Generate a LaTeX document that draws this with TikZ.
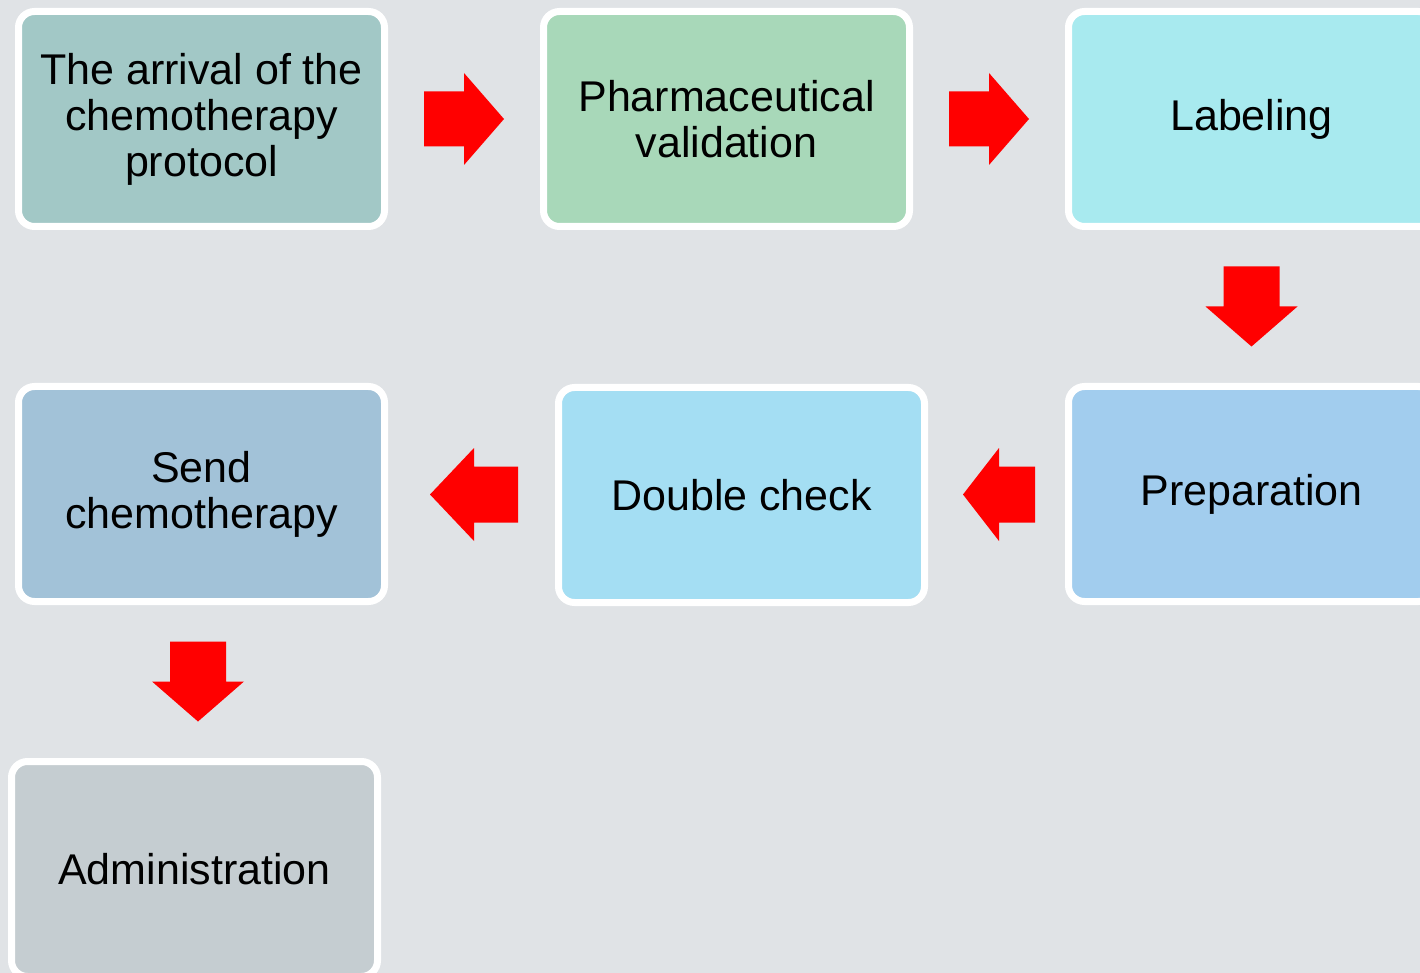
\documentclass[tikz,border=0pt]{standalone}
\usepackage{fontspec}
\setmainfont{Liberation Sans}
\usetikzlibrary{calc}
\definecolor{bgc}{RGB}{224,227,230}
\definecolor{cA}{RGB}{162,200,198}
\definecolor{cB}{RGB}{168,216,185}
\definecolor{cC}{RGB}{168,234,239}
\definecolor{cD}{RGB}{162,205,238}
\definecolor{cE}{RGB}{164,222,243}
\definecolor{cF}{RGB}{162,194,216}
\definecolor{cG}{RGB}{197,205,209}
\definecolor{arrowred}{RGB}{255,0,0}
\begin{document}
\begin{tikzpicture}[x=0.5pt,y=-0.5pt,
  box/.style={draw=white, line width=3.5pt, rounded corners=8pt,
    minimum width=183pt, minimum height=107.5pt, inner sep=0pt,
    align=center, text=black, font=\fontsize{21.5pt}{23pt}\selectfont},
  pics/rarr/.style={code={\fill[arrowred] (-40,-27.5) -- (0,-27.5) -- (0,-46) -- (40,0) -- (0,46) -- (0,27.5) -- (-40,27.5) -- cycle;}},
  pics/larr/.style={code={\fill[arrowred] (44,-28) -- (0,-28) -- (0,-46.5) -- (-44,0) -- (0,46.5) -- (0,28) -- (44,28) -- cycle;}},
  pics/larrs/.style={code={\fill[arrowred] (36,-28) -- (0,-28) -- (0,-46.5) -- (-36,0) -- (0,46.5) -- (0,28) -- (36,28) -- cycle;}},
  pics/darr/.style={code={\fill[arrowred] (-28,-40) -- (-28,0) -- (-46,0) -- (0,40) -- (46,0) -- (28,0) -- (28,-40) -- cycle;}}
]
\useasboundingbox (0,0) rectangle (1420,973);
\fill[bgc] (0,0) rectangle (1420,973);
\clip (0,0) rectangle (1420,973);
\node[box, fill=cA] (arr) at (201.5,119) {\strut The arrival of the\\chemotherapy\\protocol};
\node[box, fill=cB] (val) at (726.5,119) {Pharmaceutical\\validation};
\node[box, fill=cC] (lab) at (1251.5,119) {Labeling};
\node[box, fill=cD] (prep) at (1251.5,494) {Preparation};
\node[box, fill=cE] (dbl) at (741.5,495) {Double check};
\node[box, fill=cF] (send) at (201.5,494) {Send\\chemotherapy};
\node[box, fill=cG] (adm) at (194.5,869) {Administration};
\pic at ($(arr.east)!0.5!(val.west)$) {rarr};
\pic at ($(val.east)!0.5!(lab.west)$) {rarr};
\pic at ($(lab.south)!0.5!(prep.north)$) {darr};
\pic at ($(prep.west)!0.5!(dbl.east)+(2.5,0)$) {larrs};
\pic at ($(dbl.west)!0.5!(send.east)+(2.5,0)$) {larr};
\pic at ($(send.south)!0.5!(adm.north)$) {darr};
\end{tikzpicture}
\end{document}
